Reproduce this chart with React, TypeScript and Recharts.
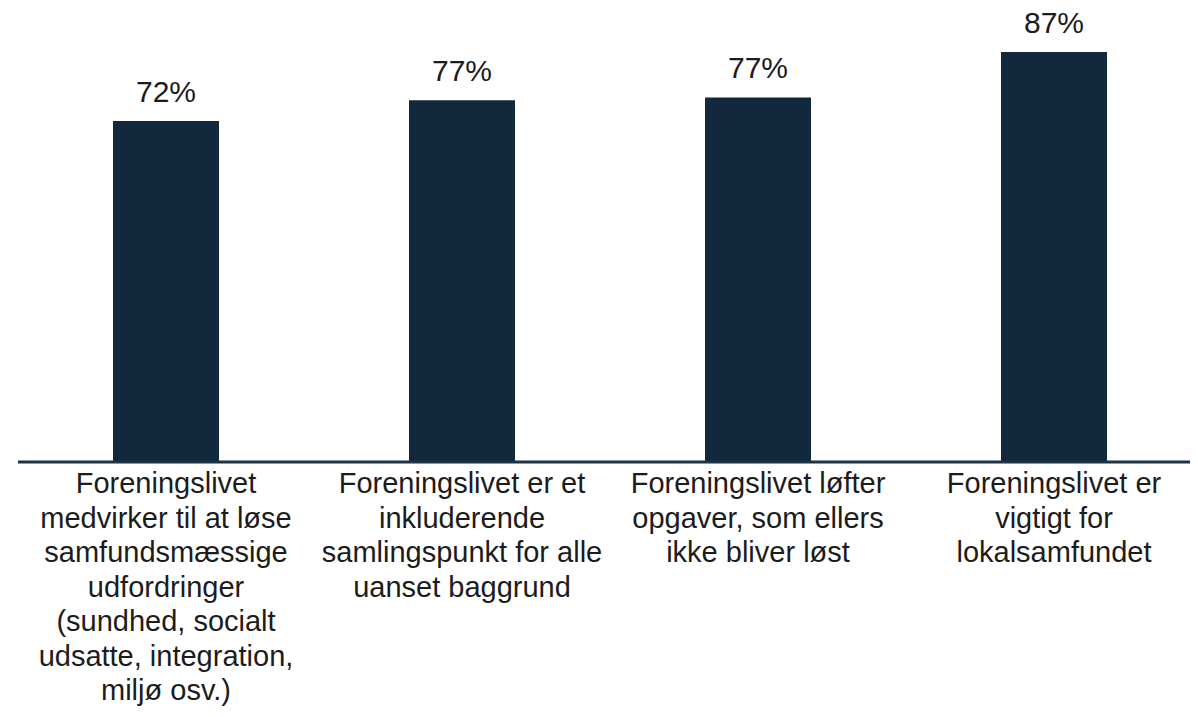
import { BarChart, Bar, XAxis, YAxis, LabelList } from 'recharts';

// category labels, line breaks as in the picture
const categories = [
  'Foreningslivet\nmedvirker til at løse\nsamfundsmæssige\nudfordringer\n(sundhed, socialt\nudsatte, integration,\nmiljø osv.)',
  'Foreningslivet er et\ninkluderende\nsamlingspunkt for alle\nuanset baggrund',
  'Foreningslivet løfter\nopgaver, som ellers\nikke bliver løst',
  'Foreningslivet er\nvigtigt for\nlokalsamfundet',
];
const values = [72.2, 76.6, 77.2, 86.8];

const data = categories.map((c, i) => ({ name: c, value: values[i] }));

const FONT = '"Liberation Sans", Arial, sans-serif';
const NAVY = '#12283c';

const CategoryTick = (props: any) => {
  const { x, y, payload } = props;
  const lines = String(payload.value).split('\n');
  return (
    <text x={x} y={y} textAnchor='middle' fontFamily={FONT} fontSize={29} fill='#1c1c1c'>
      {lines.map((l, i) => (
        <tspan key={i} x={x} dy={i === 0 ? 25 : 34.5}>
          {l}
        </tspan>
      ))}
    </text>
  );
};

const ValueLabel = (props: any) => {
  const { x, y, width, value } = props;
  return (
    <text x={x + width / 2} y={y - 19} textAnchor='middle' fontFamily={FONT} fontSize={30} fill='#1c1c1c'>
      {Math.round(value)}%
    </text>
  );
};

const App: React.FC = () => {
  return (
    <div style={{ margin: -8, width: 1198, height: 717, overflow: 'hidden', background: '#fff' }}>
      <BarChart width={1202} height={717} data={data} margin={{ top: 37, right: 0, bottom: 0, left: 18 }} barSize={106}>
        <YAxis hide domain={[0, 90]} />
        <XAxis
          dataKey='name'
          interval={0}
          tickLine={false}
          axisLine={{ stroke: '#1d3346', strokeWidth: 3 }}
          tick={<CategoryTick />}
          height={255}
          tickMargin={0}
        />
        <Bar dataKey='value' fill={NAVY} isAnimationActive={false}>
          <LabelList dataKey='value' content={<ValueLabel />} />
        </Bar>
      </BarChart>
    </div>
  );
};

export default App;
